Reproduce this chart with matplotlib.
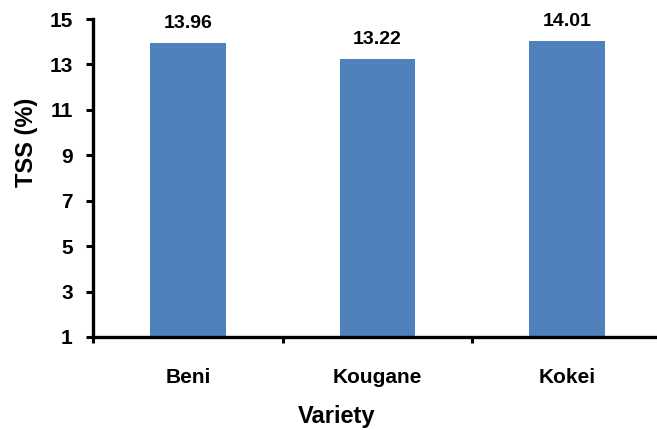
import matplotlib
matplotlib.use("Agg")
import matplotlib.pyplot as plt
import numpy as np

varieties = ["Beni", "Kougane", "Kokei"]
tss = [13.96, 13.22, 14.01]
y_ticks = [1, 3, 5, 7, 9, 11, 13, 15]

plt.rcParams['font.family'] = ['Liberation Sans', 'DejaVu Sans']
plt.rcParams['font.weight'] = 'bold'

fig = plt.figure(figsize=(6.57, 4.30), dpi=100)
ax = fig.add_axes([0.1423, 0.2163, 0.8645, 0.7395])

x = np.arange(len(varieties))
base = y_ticks[0]
ax.bar(x, np.array(tss) - base, bottom=base, width=0.4, color="#4F81BD", zorder=2)

for xi, v in zip(x, tss):
    ax.annotate(f"{v:.2f}", (xi, v), xytext=(0, 8), textcoords="offset points",
                ha="center", va="bottom", fontsize=14, fontweight="bold")

ax.set_xlim(-0.5, len(varieties) - 0.5)
ax.set_ylim(1, 15)
ax.set_yticks(y_ticks)
ax.set_yticklabels([str(t) for t in y_ticks], fontsize=15, fontweight="bold")
ax.set_xticks(x)
ax.set_xticklabels(varieties, fontsize=15, fontweight="bold")
ax.set_xticks(np.arange(-0.5, len(varieties)), minor=True)

ax.tick_params(axis="x", which="major", length=0, pad=22)
ax.tick_params(axis="x", which="minor", length=4, width=2.2, direction="out")
ax.tick_params(axis="y", length=5, width=2.2, direction="out", pad=10)

for side in ("top", "right"):
    ax.spines[side].set_visible(False)
for side in ("left", "bottom"):
    ax.spines[side].set_linewidth(2.4)

ax.set_ylabel("TSS (%)", fontsize=17, fontweight="bold", labelpad=8, y=0.612)
ax.set_xlabel("Variety", fontsize=17, fontweight="bold", labelpad=13, x=0.4287)

fig.savefig("out.png", dpi=100)
